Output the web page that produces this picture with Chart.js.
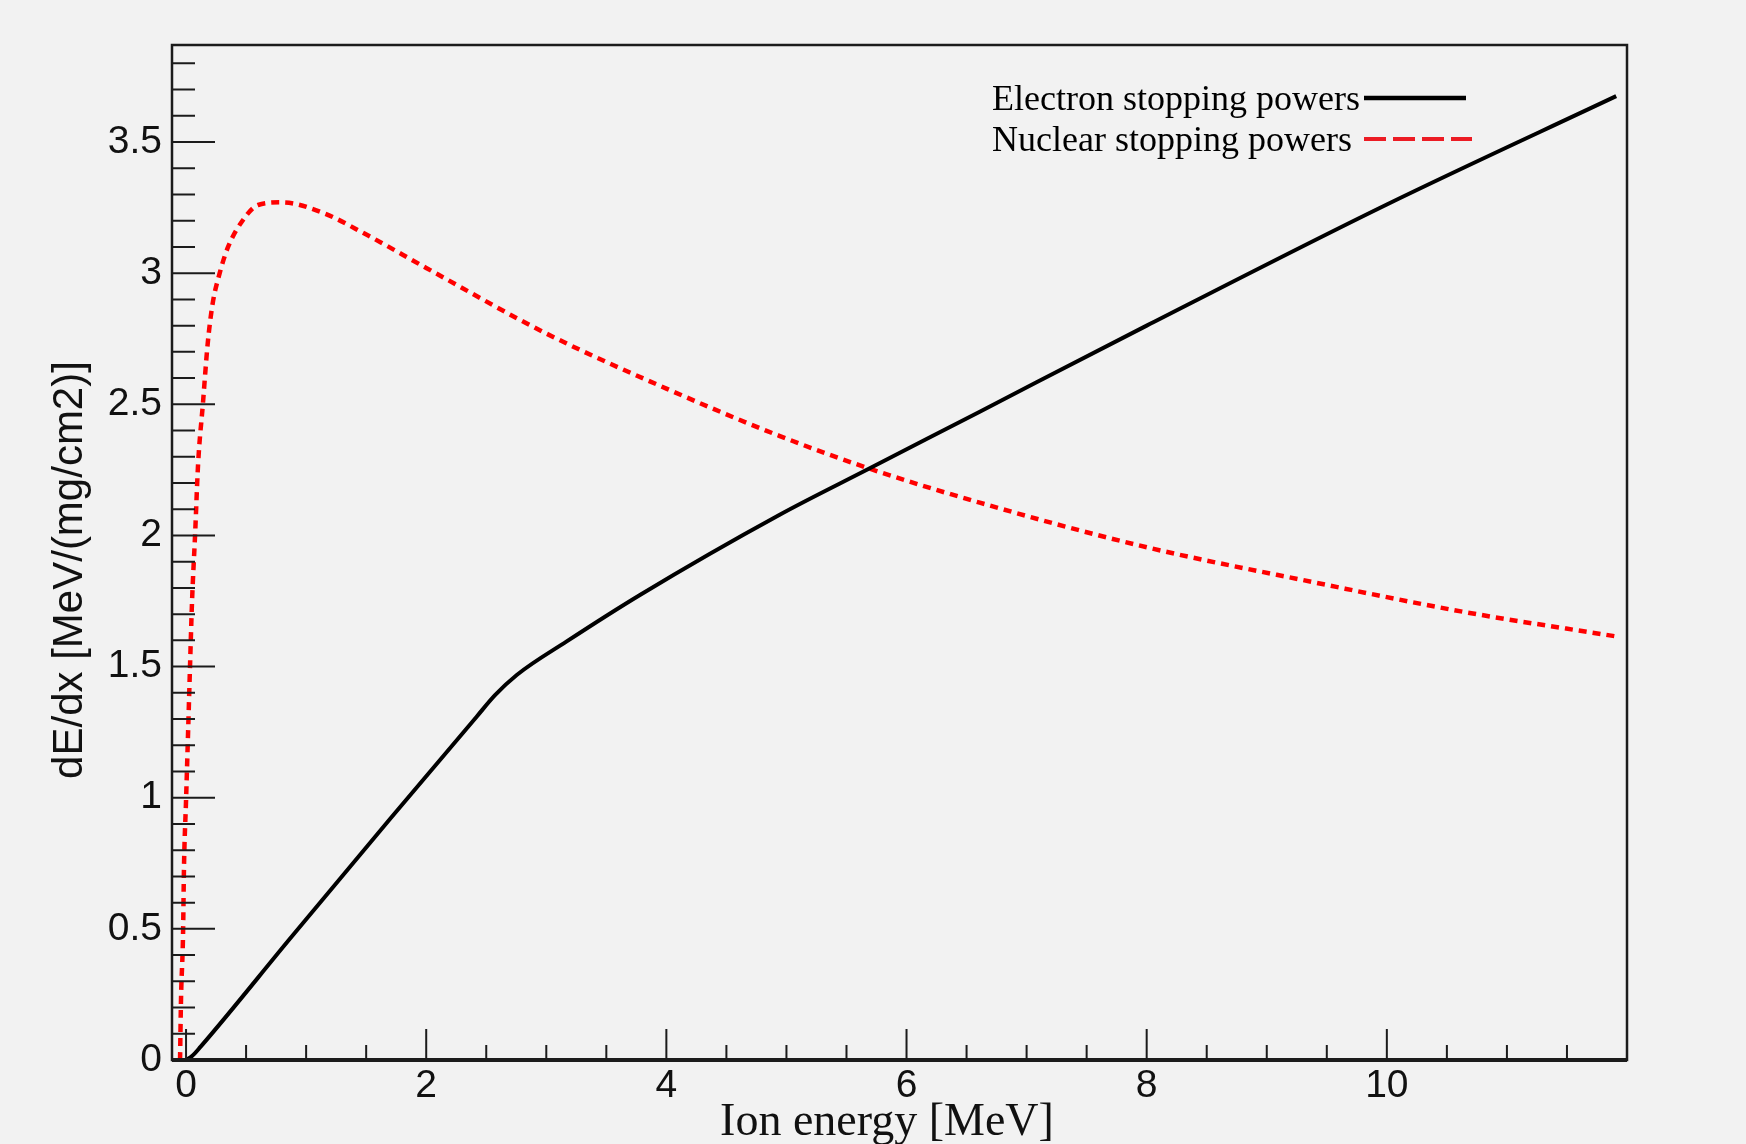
<!DOCTYPE html>
<html>
<head>
<meta charset="utf-8">
<title>Stopping powers</title>
<script src="https://cdn.jsdelivr.net/npm/chart.js@4.4.1/dist/chart.umd.min.js"></script>
<style>
  html, body { margin: 0; padding: 0; background: #f2f2f2; }
  canvas { display: block; }
</style>
</head>
<body>
<canvas id="chart" width="1746" height="1144"></canvas>
<script>
// electron stopping power vs ion energy (MeV -> MeV/(mg/cm2))
const electronEnergy = [0, 0.05, 0.12, 0.87, 1.70, 2.42, 2.573, 2.754, 3.17, 3.78, 4.94, 5.69, 6.61, 8.0, 10.0, 11.91];
const electronPower = [0, 0.015, 0.05, 0.465, 0.92, 1.309, 1.391, 1.468, 1.596, 1.773, 2.078, 2.255, 2.472, 2.80, 3.262, 3.675];

// nuclear stopping power
const nuclearEnergy = [-0.05, -0.042, -0.025, -0.017, 0.0, 0.017, 0.033, 0.05, 0.075, 0.10, 0.14, 0.18, 0.22, 0.28, 0.35, 0.47, 0.60, 0.80, 1.14, 1.49, 2.0, 3.0, 4.0, 4.94, 5.69, 6.61, 8.0, 9.3, 10.66, 11.91];
const nuclearPower = [0.0, 0.23, 0.48, 0.74, 0.99, 1.25, 1.50, 1.75, 2.0, 2.27, 2.50, 2.73, 2.88, 3.00, 3.10, 3.20, 3.26, 3.27, 3.23, 3.15, 3.02, 2.77, 2.56, 2.38, 2.255, 2.125, 1.955, 1.83, 1.707, 1.615];

const seriesLabels = ['Electron stopping powers', 'Nuclear stopping powers'];
const xTickValues = [0, 2, 4, 6, 8, 10];
const yTickValues = [0, 0.5, 1, 1.5, 2, 2.5, 3, 3.5];
const xTitle = 'Ion energy [MeV]';
const yTitle = 'dE/dx [MeV/(mg/cm2)]';

const toPoints = (xs, ys) => xs.map((v, i) => ({ x: v, y: ys[i] }));

const SANS = '"Liberation Sans", Arial, sans-serif';
const SERIF = '"Liberation Serif", "Times New Roman", serif';
Chart.defaults.font.family = SANS;
Chart.defaults.color = '#111';

// inward ROOT-style ticks plus the box around the plot
const frameTicks = {
  id: 'frameTicks',
  afterDatasetsDraw(chart) {
    const { ctx, chartArea: a, scales: { x, y } } = chart;
    ctx.save();
    ctx.strokeStyle = '#1c1c1c';
    ctx.lineWidth = 2;
    ctx.beginPath();
    for (let i = 0; i <= 38; i++) {
      const py = y.getPixelForValue(i / 10);
      const len = i % 5 === 0 ? 43 : 23;
      ctx.moveTo(a.left, py);
      ctx.lineTo(a.left + len, py);
    }
    for (let i = 0; i <= 23; i++) {
      const px = x.getPixelForValue(i / 2);
      const len = i % 4 === 0 ? 31 : 15;
      ctx.moveTo(px, a.bottom);
      ctx.lineTo(px, a.bottom - len);
    }
    ctx.stroke();
    ctx.lineWidth = 2.5;
    ctx.strokeRect(a.left, a.top, a.right - a.left, a.bottom - a.top);
    ctx.lineWidth = 4;
    ctx.beginPath();
    ctx.moveTo(a.left, a.bottom);
    ctx.lineTo(a.right, a.bottom);
    ctx.stroke();
    ctx.restore();
  }
};

// axis titles, placed like the ROOT canvas does
const axisTitles = {
  id: 'axisTitles',
  afterDraw(chart) {
    const { ctx, chartArea: a } = chart;
    ctx.save();
    ctx.fillStyle = '#111';
    ctx.textAlign = 'center';
    ctx.font = '46px ' + SERIF;
    ctx.textBaseline = 'alphabetic';
    ctx.fillText(xTitle, a.left + 715, 1135);
    ctx.font = '42px ' + SANS;
    ctx.textBaseline = 'middle';
    ctx.translate(70, a.top + 525);
    ctx.rotate(-Math.PI / 2);
    ctx.fillText(yTitle, 0, 0);
    ctx.restore();
  }
};

// legend in the top right corner: text first, line sample after it
const insetLegend = {
  id: 'insetLegend',
  afterDatasetsDraw(chart) {
    const ctx = chart.ctx;
    const samples = [
      { dash: [], width: 4.5, color: '#000', end: 1466 },
      { dash: [22, 7], width: 4, color: '#ec1c24', end: 1472 }
    ];
    ctx.save();
    ctx.font = '36px ' + SERIF;
    ctx.textAlign = 'left';
    ctx.textBaseline = 'alphabetic';
    ctx.fillStyle = '#000';
    chart.data.datasets.forEach((ds, i) => {
      const base = 110 + i * 41;
      ctx.fillText(ds.label, 992, base);
      const s = samples[i];
      ctx.beginPath();
      ctx.setLineDash(s.dash);
      ctx.lineWidth = s.width;
      ctx.strokeStyle = s.color;
      ctx.moveTo(1364, base - 12);
      ctx.lineTo(s.end, base - 12);
      ctx.stroke();
    });
    ctx.restore();
  }
};

new Chart(document.getElementById('chart'), {
  type: 'line',
  data: {
    datasets: [
      {
        label: seriesLabels[0],
        data: toPoints(electronEnergy, electronPower),
        borderColor: '#000',
        borderWidth: 4,
        pointRadius: 0,
        cubicInterpolationMode: 'monotone'
      },
      {
        label: seriesLabels[1],
        data: toPoints(nuclearEnergy, nuclearPower),
        borderColor: '#ff0000',
        borderWidth: 4.5,
        borderDash: [8, 6],
        pointRadius: 0,
        cubicInterpolationMode: 'monotone'
      }
    ]
  },
  options: {
    responsive: false,
    animation: false,
    devicePixelRatio: 1,
    layout: { padding: { top: 45, right: 119, left: 0, bottom: 0 } },
    plugins: { legend: { display: false }, tooltip: { enabled: false } },
    scales: {
      x: {
        type: 'linear',
        min: -0.117,
        max: 12,
        grid: { display: false, drawTicks: false },
        border: { display: false },
        afterBuildTicks: s => { s.ticks = xTickValues.map(v => ({ value: v })); },
        afterFit: s => { s.height = 84; },
        ticks: { font: { size: 39 }, padding: 3, maxRotation: 0, callback: v => String(v) }
      },
      y: {
        type: 'linear',
        min: 0,
        max: 3.87,
        grid: { display: false, drawTicks: false },
        border: { display: false },
        afterBuildTicks: s => { s.ticks = yTickValues.map(v => ({ value: v })); },
        afterFit: s => { s.width = 172; },
        ticks: { font: { size: 39 }, padding: 10, callback: v => String(v) }
      }
    }
  },
  plugins: [frameTicks, axisTitles, insetLegend]
});
</script>
</body>
</html>
